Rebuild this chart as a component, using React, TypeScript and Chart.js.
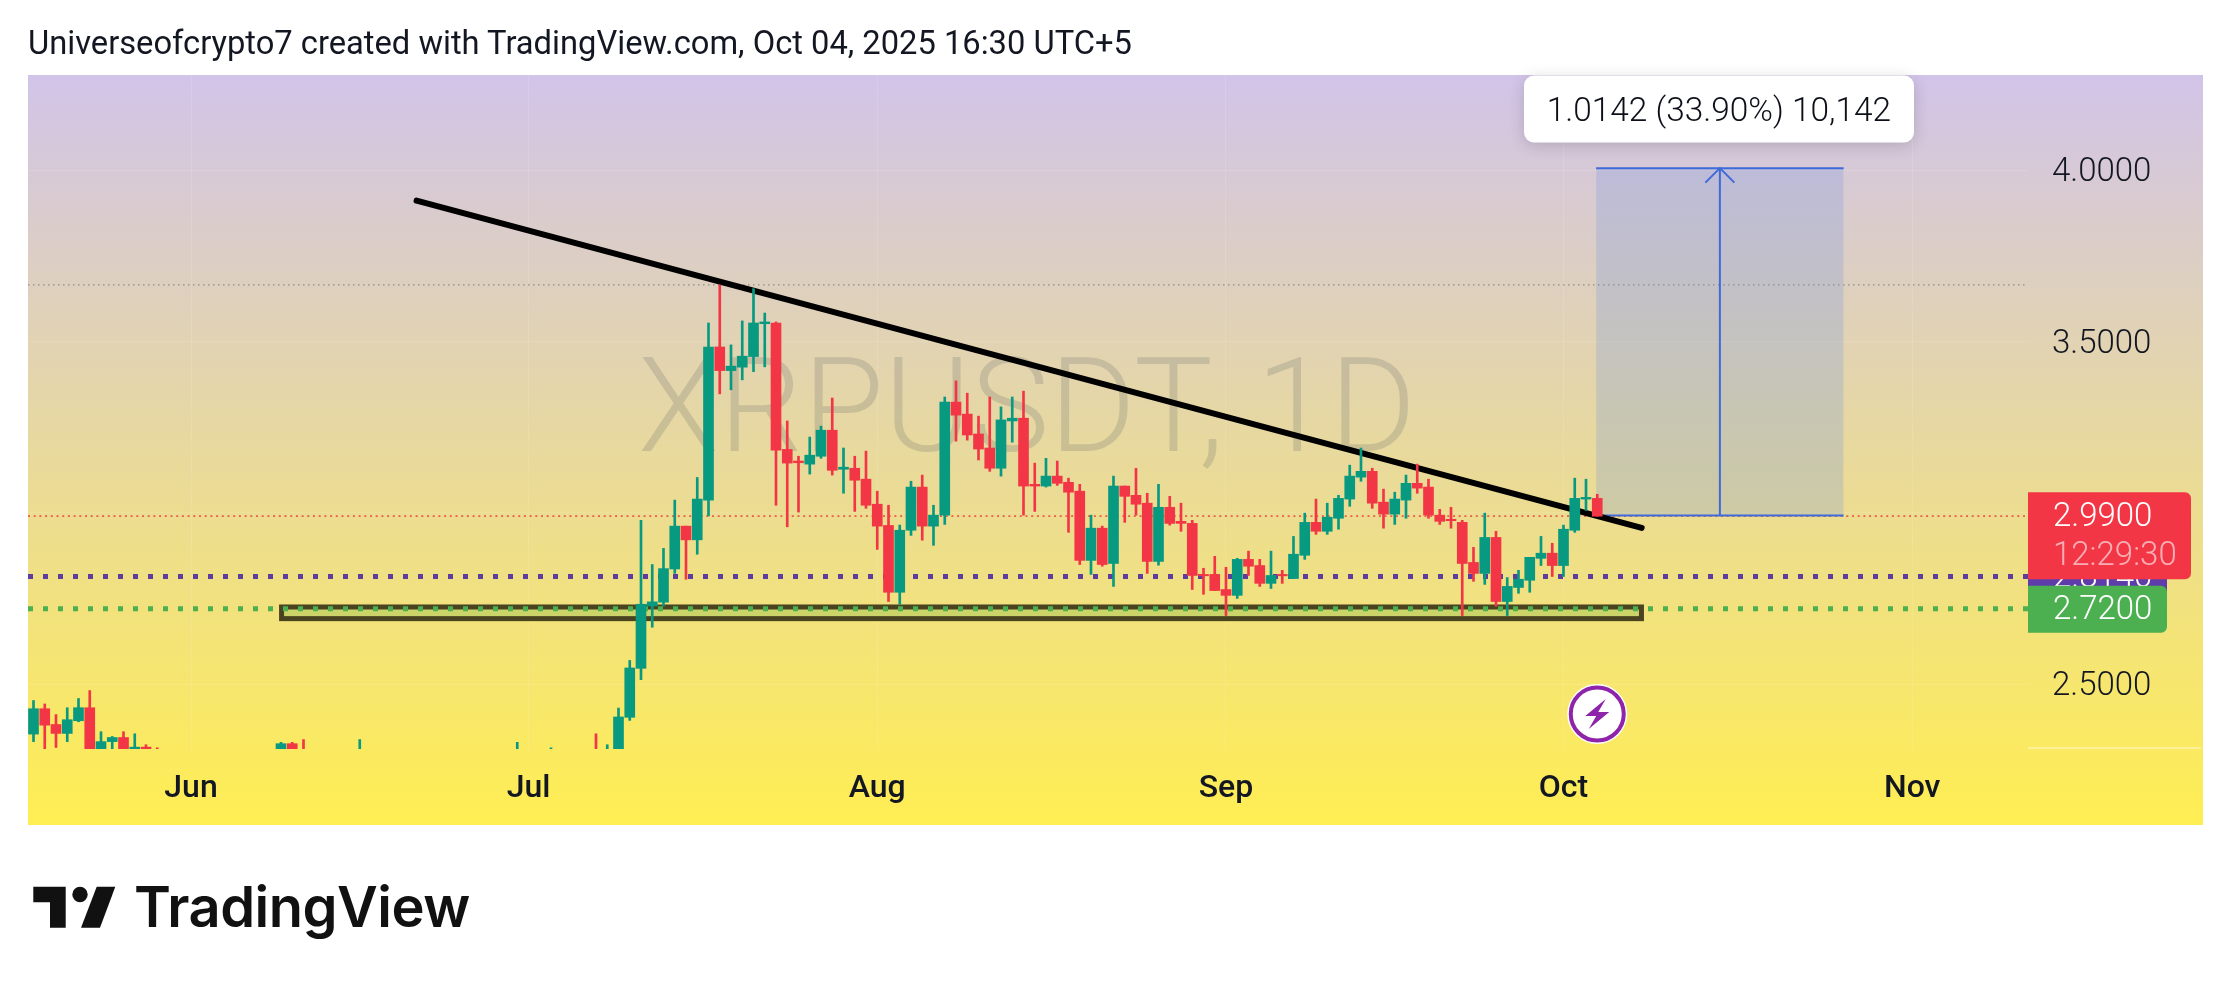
import React, { useEffect, useRef } from "react";
import { Chart, registerables } from "chart.js";

Chart.register(...registerables);

// ---- data ----
const days = [-14,-13,-12,-11,-10,-9,-8,-7,-6,-5,-4,-3,8,9,10,15,29,32,36,37,38,39,40,41,42,43,44,45,46,47,48,49,50,51,52,53,54,55,56,57,58,59,60,61,62,63,64,65,66,67,68,69,70,71,72,73,74,75,76,77,78,79,80,81,82,83,84,85,86,87,88,89,90,91,92,93,94,95,96,97,98,99,100,101,102,103,104,105,106,107,108,109,110,111,112,113,114,115,116,117,118,119,120,121,122,123,124,125];
const opens = [2.354,2.428,2.382,2.356,2.393,2.431,2.28,2.332,2.344,2.29,2.316,2.30,2.29,2.326,2.30,2.29,2.29,2.29,2.30,2.29,2.30,2.403,2.546,2.728,2.739,2.836,2.961,2.921,3.037,3.484,3.415,3.425,3.456,3.552,3.554,3.185,3.151,3.142,3.165,3.241,3.127,3.130,3.098,3.025,2.963,2.768,2.949,3.075,2.961,2.993,3.323,3.288,3.230,3.189,3.130,3.268,3.276,3.083,3.078,3.107,3.089,3.063,2.861,2.955,2.852,3.078,3.051,3.028,2.858,3.016,2.975,2.969,2.820,2.820,2.776,2.759,2.864,2.846,2.794,2.820,2.808,2.876,2.972,2.946,2.984,3.040,3.104,3.121,3.031,2.996,3.037,3.086,3.075,2.993,2.981,2.972,2.855,2.823,2.928,2.741,2.782,2.803,2.867,2.882,2.846,2.949,3.040,3.042];
const highs = [2.452,2.442,2.411,2.431,2.458,2.481,2.361,2.347,2.361,2.355,2.323,2.314,2.330,2.330,2.338,2.338,2.330,2.314,2.355,2.323,2.430,2.569,2.978,2.849,2.896,3.037,2.961,3.103,3.554,3.665,3.490,3.560,3.654,3.583,3.557,3.268,3.165,3.221,3.253,3.335,3.189,3.165,3.180,3.063,3.022,2.964,3.092,3.110,3.022,3.338,3.385,3.349,3.282,3.338,3.309,3.338,3.355,3.145,3.159,3.151,3.101,3.083,2.993,2.961,3.107,3.078,3.130,3.057,3.083,3.048,3.028,2.978,2.838,2.873,2.841,2.867,2.888,2.864,2.888,2.832,2.931,2.999,3.040,3.028,3.051,3.139,3.189,3.130,3.069,3.060,3.110,3.142,3.098,3.010,3.016,2.978,2.899,2.999,2.946,2.811,2.832,2.870,2.931,2.911,2.964,3.101,3.098,3.054];
const lows = [2.332,2.30,2.315,2.332,2.390,2.27,2.27,2.30,2.28,2.28,2.28,2.28,2.28,2.28,2.28,2.28,2.28,2.28,2.28,2.28,2.28,2.394,2.513,2.666,2.728,2.823,2.806,2.879,2.991,3.347,3.359,3.388,3.412,3.426,3.022,2.959,3.002,3.113,3.159,3.110,3.057,3.004,3.013,2.893,2.741,2.733,2.934,2.920,2.905,2.966,3.209,3.212,3.154,3.121,3.107,3.206,2.993,3.004,3.075,3.080,2.943,2.849,2.820,2.844,2.785,2.972,2.993,2.823,2.847,2.964,2.946,2.776,2.762,2.773,2.700,2.750,2.817,2.785,2.779,2.794,2.808,2.864,2.937,2.937,2.952,3.019,3.092,3.013,2.955,2.966,2.984,3.057,2.984,2.966,2.955,2.700,2.800,2.791,2.727,2.700,2.765,2.768,2.846,2.814,2.814,2.943,3.007,2.990];
const closes = [2.428,2.380,2.356,2.396,2.431,2.28,2.332,2.344,2.29,2.316,2.29,2.29,2.326,2.29,2.29,2.30,2.30,2.30,2.29,2.30,2.404,2.547,2.733,2.740,2.837,2.961,2.921,3.040,3.484,3.415,3.428,3.457,3.554,3.557,3.183,3.145,3.146,3.168,3.241,3.124,3.133,3.095,3.022,2.961,2.768,2.949,3.075,2.961,2.993,3.323,3.285,3.227,3.186,3.130,3.271,3.276,3.078,3.078,3.107,3.086,3.060,2.861,2.955,2.849,3.078,3.048,3.025,2.858,3.016,2.969,2.969,2.817,2.816,2.773,2.759,2.864,2.844,2.794,2.817,2.816,2.879,2.972,2.946,2.987,3.042,3.107,3.121,3.028,2.996,3.040,3.086,3.072,2.993,2.975,2.977,2.852,2.823,2.928,2.741,2.785,2.806,2.870,2.882,2.846,2.952,3.042,3.045,2.990];

const monthDays = [0, 30, 61, 92, 122, 153];
const monthLabels = ["Jun", "Jul", "Aug", "Sep", "Oct", "Nov"];
const priceTicks = [2.5, 3, 3.5, 4];
const priceTickLabels = ["2.5000", "", "3.5000", "4.0000"];

const lastPrice = 2.99;
const highLevel = 3.665;
const purpleLevel = 2.814;
const greenLevel = 2.72;
const trendDays = [20.05, 128.95];
const trendValues = [3.911, 2.956];
const zoneDays = [8.05, 128.93];
const zoneValues = [2.691, 2.725];
const targetDays = [124.9, 135.9, 146.9];
const targetBase = 2.9917;
const targetTop = 4.0059;
const eventDay = 125;

const titleText = "Universeofcrypto7 created with TradingView.com, Oct 04, 2025 16:30 UTC+5";
const watermarkText = "XRPUSDT, 1D";
const measureText = "1.0142 (33.90%) 10,142";
const countdownText = "12:29:30";
const lastPriceText = "2.9900";
const purpleText = "2.8140";
const greenText = "2.7200";

// ---- view ----
const xMin = -14.489;
const xMax = 163.289;
const yMin = 2.3105;
const yMax = 4.2778;
const UP = "#089981";
const DOWN = "#F23645";
const FONT = "Roboto, sans-serif";
const INK = "#131722";

const overlay = {
  id: "overlay",
  beforeDraw(chart: any) {
    const { ctx } = chart;
    const g = ctx.createLinearGradient(0, 75, 0, 825);
    g.addColorStop(0, "#D1C4E9");
    g.addColorStop(1, "#FFEE52");
    ctx.save();
    ctx.fillStyle = g;
    ctx.fillRect(28, 75, 2175, 750);
    ctx.restore();
  },
  beforeDatasetsDraw(chart: any) {
    const { ctx, scales } = chart;
    const x = scales.x;
    const y = scales.y;
    ctx.save();
    // watermark
    ctx.font = `300 132px ${FONT}`;
    ctx.fillStyle = "rgba(110,115,110,0.25)";
    ctx.textAlign = "center";
    ctx.textBaseline = "middle";
    ctx.fillText(watermarkText, 1027, 418);
    // support zone
    const zx0 = x.getPixelForValue(zoneDays[0]);
    const zx1 = x.getPixelForValue(zoneDays[1]);
    const zy0 = y.getPixelForValue(zoneValues[1]);
    const zy1 = y.getPixelForValue(zoneValues[0]);
    ctx.fillStyle = "rgba(170,200,90,0.55)";
    ctx.fillRect(zx0, zy0, zx1 - zx0, zy1 - zy0);
    ctx.strokeStyle = "#4A4320";
    ctx.lineWidth = 5;
    ctx.strokeRect(zx0, zy0, zx1 - zx0, zy1 - zy0);
    ctx.restore();
  },
  afterDatasetsDraw(chart: any) {
    const { ctx, scales, chartArea } = chart;
    const x = scales.x;
    const y = scales.y;
    ctx.save();
    // arrow head of the measure
    const ax = x.getPixelForValue(targetDays[1]);
    const ay = y.getPixelForValue(targetTop);
    ctx.strokeStyle = "#3F6AD8";
    ctx.lineWidth = 2;
    ctx.beginPath();
    ctx.moveTo(ax - 14.5, ay + 14.5);
    ctx.lineTo(ax, ay);
    ctx.lineTo(ax + 14.5, ay + 14.5);
    ctx.stroke();

    // measure label
    ctx.save();
    ctx.shadowColor = "rgba(0,0,0,0.16)";
    ctx.shadowBlur = 16;
    ctx.shadowOffsetY = 3;
    ctx.fillStyle = "#fff";
    ctx.beginPath();
    ctx.roundRect(1524, 75.5, 390, 67, 10);
    ctx.fill();
    ctx.restore();
    ctx.fillStyle = "#0C0F18";
    ctx.font = `300 33.4px ${FONT}`;
    ctx.textAlign = "center";
    ctx.textBaseline = "middle";
    ctx.fillText(measureText, ax - 1, 112.5);

    // event icon
    const ex = x.getPixelForValue(eventDay);
    const ey = 714;
    ctx.fillStyle = "#fff";
    ctx.beginPath();
    ctx.arc(ex, ey, 30, 0, Math.PI * 2);
    ctx.fill();
    ctx.strokeStyle = "#8E24AA";
    ctx.lineWidth = 4;
    ctx.beginPath();
    ctx.arc(ex, ey, 26.5, 0, Math.PI * 2);
    ctx.stroke();
    ctx.fillStyle = "#8E24AA";
    ctx.beginPath();
    ctx.moveTo(ex + 8.5, ey - 15);
    ctx.lineTo(ex - 12, ey + 2);
    ctx.lineTo(ex - 1, ey + 2);
    ctx.lineTo(ex - 8.5, ey + 15);
    ctx.lineTo(ex + 12, ey - 2);
    ctx.lineTo(ex + 1, ey - 2);
    ctx.closePath();
    ctx.fill();

    // axis separator
    ctx.strokeStyle = "rgba(255,255,255,0.7)";
    ctx.lineWidth = 1;
    ctx.beginPath();
    ctx.moveTo(chartArea.right, chartArea.bottom - 1);
    ctx.lineTo(2201, chartArea.bottom - 1);
    ctx.stroke();

    // price badges
    const badge = (c: string, yc: number, w: number, h: number) => {
      ctx.fillStyle = c;
      ctx.beginPath();
      ctx.roundRect(chartArea.right, yc - h / 2, w, h, [0, 6, 6, 0]);
      ctx.fill();
    };
    ctx.textAlign = "left";
    ctx.textBaseline = "middle";
    ctx.font = `300 33px ${FONT}`;
    const py = y.getPixelForValue(purpleLevel);
    badge("#5E3CAA", py, 139, 47);
    ctx.fillStyle = "#fff";
    ctx.fillText(purpleText, chartArea.right + 25, py + 2);
    const gy = y.getPixelForValue(greenLevel);
    badge("#4CAF50", gy + 0.5, 139, 47);
    ctx.fillStyle = "#fff";
    ctx.fillText(greenText, chartArea.right + 25, gy + 2);
    const ry = y.getPixelForValue(lastPrice);
    ctx.fillStyle = DOWN;
    ctx.beginPath();
    ctx.roundRect(chartArea.right, ry - 24, 163, 87, [0, 6, 6, 0]);
    ctx.fill();
    ctx.fillStyle = "#fff";
    ctx.fillText(lastPriceText, chartArea.right + 25, ry + 2);
    ctx.fillStyle = "rgba(255,255,255,0.6)";
    ctx.fillText(countdownText, chartArea.right + 25, ry + 41);
    ctx.restore();
  },
};

function level(value: number, color: string, width: number, dash: number[], order: number) {
  return {
    type: "line",
    data: [
      { x: xMin, y: value },
      { x: xMax, y: value },
    ],
    borderColor: color,
    borderWidth: width,
    borderDash: dash,
    pointRadius: 0,
    order,
  };
}

export default function App() {
  const ref = useRef<HTMLCanvasElement | null>(null);

  useEffect(() => {
    document.body.style.margin = "0";
    document.body.style.background = "#fff";
    const colors = days.map((_, i) => (closes[i] >= opens[i] ? UP : DOWN));
    const chart = new Chart(ref.current as HTMLCanvasElement, {
      type: "bar",
      data: {
        datasets: [
          level(highLevel, "#8C8C88", 1.2, [1.5, 3.5], 20),
          level(lastPrice, "rgba(235,70,60,0.85)", 1.8, [2, 3.7], 19),
          level(purpleLevel, "#5E3C9E", 5, [5, 10], 18),
          level(greenLevel, "#4CAF50", 5, [5, 10], 17),
          {
            type: "line",
            data: [
              { x: targetDays[0], y: targetTop },
              { x: targetDays[2], y: targetTop },
            ],
            borderColor: "#3F6AD8",
            borderWidth: 2,
            pointRadius: 0,
            fill: { value: targetBase },
            backgroundColor: "rgba(110,146,225,0.25)",
            order: 16,
          },
          {
            type: "line",
            data: [
              { x: targetDays[0], y: targetBase },
              { x: targetDays[2], y: targetBase },
            ],
            borderColor: "#3F6AD8",
            borderWidth: 2,
            pointRadius: 0,
            order: 15,
          },
          {
            type: "line",
            data: [
              { x: targetDays[1], y: targetBase },
              { x: targetDays[1], y: targetTop },
            ],
            borderColor: "#3F6AD8",
            borderWidth: 2,
            pointRadius: 0,
            order: 14,
          },
          {
            type: "line",
            data: [
              { x: trendDays[0], y: trendValues[0] },
              { x: trendDays[1], y: trendValues[1] },
            ],
            borderColor: "#000",
            borderWidth: 6,
            borderCapStyle: "round",
            pointRadius: 0,
            order: 13,
          },
          {
            type: "bar",
            data: days.map((d, i) => ({ x: d, y: [lows[i], highs[i]] })),
            backgroundColor: colors,
            barThickness: 2,
            grouped: false,
            order: 2,
          },
          {
            type: "bar",
            data: days.map((d, i) => ({ x: d, y: [opens[i], closes[i]] })),
            backgroundColor: colors,
            barThickness: 10,
            minBarLength: 1,
            grouped: false,
            order: 1,
          },
        ] as any,
      },
      options: {
        animation: false,
        responsive: false,
        devicePixelRatio: 1,
        layout: { padding: { left: 28, right: 28, top: 75, bottom: 165 } },
        plugins: { legend: { display: false }, tooltip: { enabled: false }, title: { display: false } },
        events: [],
        scales: {
          x: {
            type: "linear",
            min: xMin,
            max: xMax,
            offset: false,
            border: { display: false },
            grid: { color: "rgba(255,255,255,0.12)", drawTicks: false, offset: false },
            afterBuildTicks: (s: any) => {
              s.ticks = monthDays.map((value) => ({ value }));
            },
            afterFit: (s: any) => {
              s.height = 77;
            },
            ticks: {
              autoSkip: false,
              maxRotation: 0,
              padding: 21,
              labelOffset: 0,
              color: INK,
              font: { family: "Roboto", size: 32, weight: "500" },
              callback: (v: any) => monthLabels[monthDays.indexOf(v)] ?? "",
            },
          },
          y: {
            type: "linear",
            position: "right",
            min: yMin,
            max: yMax,
            border: { display: false },
            grid: { color: "rgba(255,255,255,0.12)", drawTicks: false },
            afterBuildTicks: (s: any) => {
              s.ticks = priceTicks.map((value) => ({ value }));
            },
            afterFit: (s: any) => {
              s.width = 175;
            },
            ticks: {
              padding: 24,
              labelOffset: 3,
              color: INK,
              font: { family: "Roboto", size: 33, weight: "300" },
              callback: (v: any) => priceTickLabels[priceTicks.indexOf(v)] ?? "",
            },
          },
        },
      } as any,
      plugins: [overlay],
    });
    return () => chart.destroy();
  }, []);

  return (
    <div style={{ position: "relative", width: 2231, height: 991, overflow: "hidden", background: "#fff" }}>
      <canvas ref={ref} width={2231} height={991} style={{ display: "block", position: "absolute", left: 0, top: 0 }} />
      <div
        style={{
          position: "absolute",
          left: 28,
          top: 22,
          font: "400 32.7px Roboto, sans-serif",
          lineHeight: "42px",
          color: INK,
          whiteSpace: "nowrap",
        }}
      >
        {titleText}
      </div>
      <svg style={{ position: "absolute", left: 0, top: 850 }} width={125} height={90}>
        <path d="M33.3 36.7H65.7V77.7H50V52.3H33.3Z" fill="#111" />
        <circle cx={80} cy={44.5} r={7.7} fill="#111" />
        <path d="M96.7 36.7H115.3L100 77.7H81Z" fill="#111" />
      </svg>
      <div
        style={{
          position: "absolute",
          left: 134,
          top: 873,
          font: "600 56px Inter, sans-serif",
          lineHeight: "68px",
          color: "#111",
          letterSpacing: "-0.5px",
          whiteSpace: "nowrap",
        }}
      >
        TradingView
      </div>
    </div>
  );
}
